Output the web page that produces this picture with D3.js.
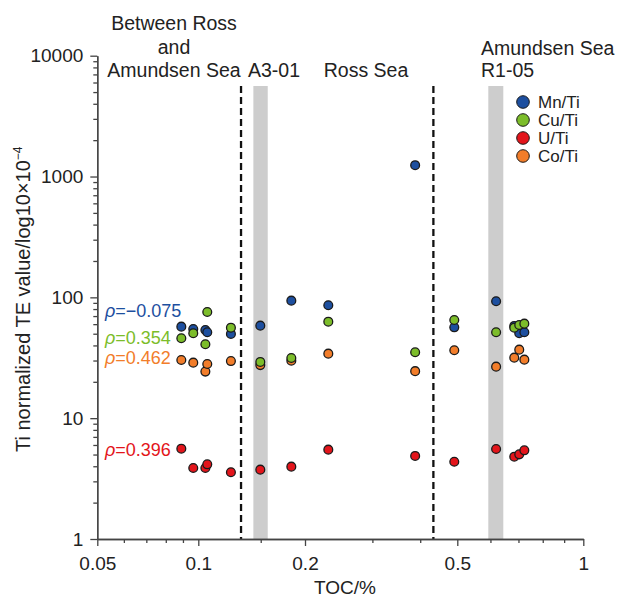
<!DOCTYPE html>
<html>
<head>
<meta charset="utf-8">
<script src="https://cdn.jsdelivr.net/npm/d3@7.9.0/dist/d3.min.js"></script>
<style>
  body { margin: 0; background: #fff; }
  svg { display: block; font-family: "Liberation Sans", Arial, sans-serif; }
  .axis path, .axis line { stroke: #444; stroke-width: 1.3; }
  .axis text { fill: #222; font-size: 19px; font-family: "Liberation Sans", Arial, sans-serif; }
</style>
</head>
<body>
<svg id="chart" width="619" height="598"></svg>
<script>
// samples (TOC %) and Ti-normalised trace elements
const toc = [0.089, 0.0966, 0.1047, 0.106, 0.1236, 0.1496, 0.183, 0.2301, 0.388, 0.491, 0.619, 0.684, 0.703, 0.723];
const mnTi = [57.2, 54.7, 53.7, 51.4, 49.8, 58.3, 93.9, 86, 1241, 56.5, 92.9, 58, 50.5, 51.4];
const cuTi = [45.9, 50.4, 40.9, 75.7, 56.1, 29.2, 31.5, 62.9, 35.1, 65, 51.4, 56.1, 59.1, 60.6];
const uTi = [5.59, 3.87, 3.87, 4.15, 3.57, 3.75, 3.97, 5.49, 4.87, 4.36, 5.56, 4.8, 5.02, 5.42];
const coTi = [30.3, 28.8, 24.3, 28.1, 29.7, 27.5, 29.9, 34.2, 24.5, 36.5, 26.7, 31.7, 36.9, 30.5];

const seriesNames = ['Mn/Ti', 'Cu/Ti', 'U/Ti', 'Co/Ti'];
const seriesColors = ['#1d4f9f', '#7cbd2a', '#e3151b', '#f27d2a'];
const rhoLabels = ['\u22120.075', '0.354', '0.396', '0.462'];
const rhoAnchor = [79, 47, 5.58, 31.8]; // y value the label sits at

const boundaries = [0.132, 0.433];          // dashed region limits
const coreBands = [[0.143, 0.157], [0.593, 0.644]];
const xMajor = [0.05, 0.1, 0.2, 0.5, 1];
const xMinor = [0.06, 0.07, 0.08, 0.09, 0.15, 0.3, 0.4, 0.6, 0.7, 0.8, 0.9];
const yMajor = [1, 10, 100, 1000, 10000];

const svg = d3.select('#chart');
const plotLeft = 97.3, plotRight = 583.3, plotTop = 55.7, plotBottom = 539;
const bandTop = 86;

// the printed x axis is not evenly spaced, so the log scale is piecewise
const x = d3.scaleLog()
  .domain(xMajor)
  .range([plotLeft, 198.3, 305, 457.3, plotRight]);
const y = d3.scaleLog().domain([1, 10000]).range([plotBottom, plotTop]);

const yMinor = [];
for (let d = 1; d < 10000; d *= 10) {
  for (let k = 2; k <= 9; k++) yMinor.push(d * k);
}

// shaded cores
svg.selectAll('rect.band')
  .data(coreBands)
  .join('rect')
  .attr('class', 'band')
  .attr('x', (d) => x(d[0]))
  .attr('width', (d) => x(d[1]) - x(d[0]))
  .attr('y', bandTop)
  .attr('height', plotBottom - bandTop)
  .attr('fill', '#cdcdcd');

svg.selectAll('line.bound')
  .data(boundaries)
  .join('line')
  .attr('class', 'bound')
  .attr('x1', (d) => x(d))
  .attr('x2', (d) => x(d))
  .attr('y1', bandTop)
  .attr('y2', plotBottom)
  .attr('stroke', '#111')
  .attr('stroke-width', 2.3)
  .attr('stroke-dasharray', '7,4');

// axes
svg.append('g')
  .attr('class', 'axis')
  .attr('transform', `translate(0,${plotBottom})`)
  .call(d3.axisBottom(x).tickValues(xMinor).tickSize(4).tickSizeOuter(0).tickFormat(''));
svg.append('g')
  .attr('class', 'axis')
  .attr('transform', `translate(0,${plotBottom})`)
  .call(d3.axisBottom(x).tickValues(xMajor).tickSize(7).tickSizeOuter(0).tickPadding(11)
    .tickFormat(d3.format('~g')));

svg.append('g')
  .attr('class', 'axis')
  .attr('transform', `translate(${plotLeft},0)`)
  .call(d3.axisLeft(y).tickValues(yMinor).tickSize(4).tickSizeOuter(0).tickFormat(''));
svg.append('g')
  .attr('class', 'axis')
  .attr('transform', `translate(${plotLeft},0)`)
  .call(d3.axisLeft(y).tickValues(yMajor).tickSize(7).tickSizeOuter(0).tickPadding(7)
    .tickFormat(d3.format('d')));

// points: orange, red, blue, green stacking
const seriesData = [mnTi, cuTi, uTi, coTi];
const drawOrder = [3, 2, 0, 1];
drawOrder.forEach((s) => {
  svg.append('g')
    .selectAll('circle')
    .data(toc.map((t, i) => [t, seriesData[s][i]]))
    .join('circle')
    .attr('cx', (d) => x(d[0]))
    .attr('cy', (d) => y(d[1]))
    .attr('r', 4.4)
    .attr('fill', seriesColors[s])
    .attr('stroke', '#1a1a1a')
    .attr('stroke-width', 1.3);
});

// correlation labels
seriesNames.forEach((name, i) => {
  const t = svg.append('text')
    .attr('x', 105)
    .attr('y', y(rhoAnchor[i]) + 7)
    .attr('fill', seriesColors[i])
    .attr('font-size', 18);
  t.append('tspan').attr('font-style', 'italic').text('\u03c1');
  t.append('tspan').text('=' + rhoLabels[i]);
});

// region titles
const titleSize = 19.5;
[['Between Ross', 30], ['and', 54], ['Amundsen Sea', 77]].forEach(([s, yy]) => {
  svg.append('text').attr('x', 174).attr('y', yy).attr('text-anchor', 'middle')
    .attr('font-size', titleSize).attr('fill', '#222').text(s);
});
svg.append('text').attr('x', 248).attr('y', 77).attr('font-size', titleSize).attr('fill', '#222').text('A3-01');
svg.append('text').attr('x', 366).attr('y', 77).attr('text-anchor', 'middle')
  .attr('font-size', titleSize).attr('fill', '#222').text('Ross Sea');
svg.append('text').attr('x', 481).attr('y', 55).attr('font-size', titleSize).attr('fill', '#222').text('Amundsen Sea');
svg.append('text').attr('x', 481).attr('y', 77).attr('font-size', titleSize).attr('fill', '#222').text('R1-05');

// legend
const legend = svg.append('g').attr('transform', 'translate(523,102)');
seriesNames.forEach((name, i) => {
  const row = legend.append('g').attr('transform', `translate(0,${i * 18})`);
  row.append('circle').attr('r', 6.3).attr('fill', seriesColors[i])
    .attr('stroke', '#1a1a1a').attr('stroke-width', 1);
  row.append('text').attr('x', 15).attr('y', 6).attr('font-size', 17).attr('fill', '#222').text(name);
});

// axis titles
svg.append('text')
  .attr('x', 345).attr('y', 594)
  .attr('text-anchor', 'middle')
  .attr('font-size', 19).attr('fill', '#222')
  .text('TOC/%');

const yt = svg.append('text')
  .attr('transform', 'translate(30,452) rotate(-90)')
  .attr('text-anchor', 'start')
  .attr('font-size', 20).attr('fill', '#222');
yt.append('tspan').text('Ti normalized TE value/log10\u00d710');
yt.append('tspan').attr('font-size', 12).attr('dy', -8).text('\u22124');
</script>
</body>
</html>
